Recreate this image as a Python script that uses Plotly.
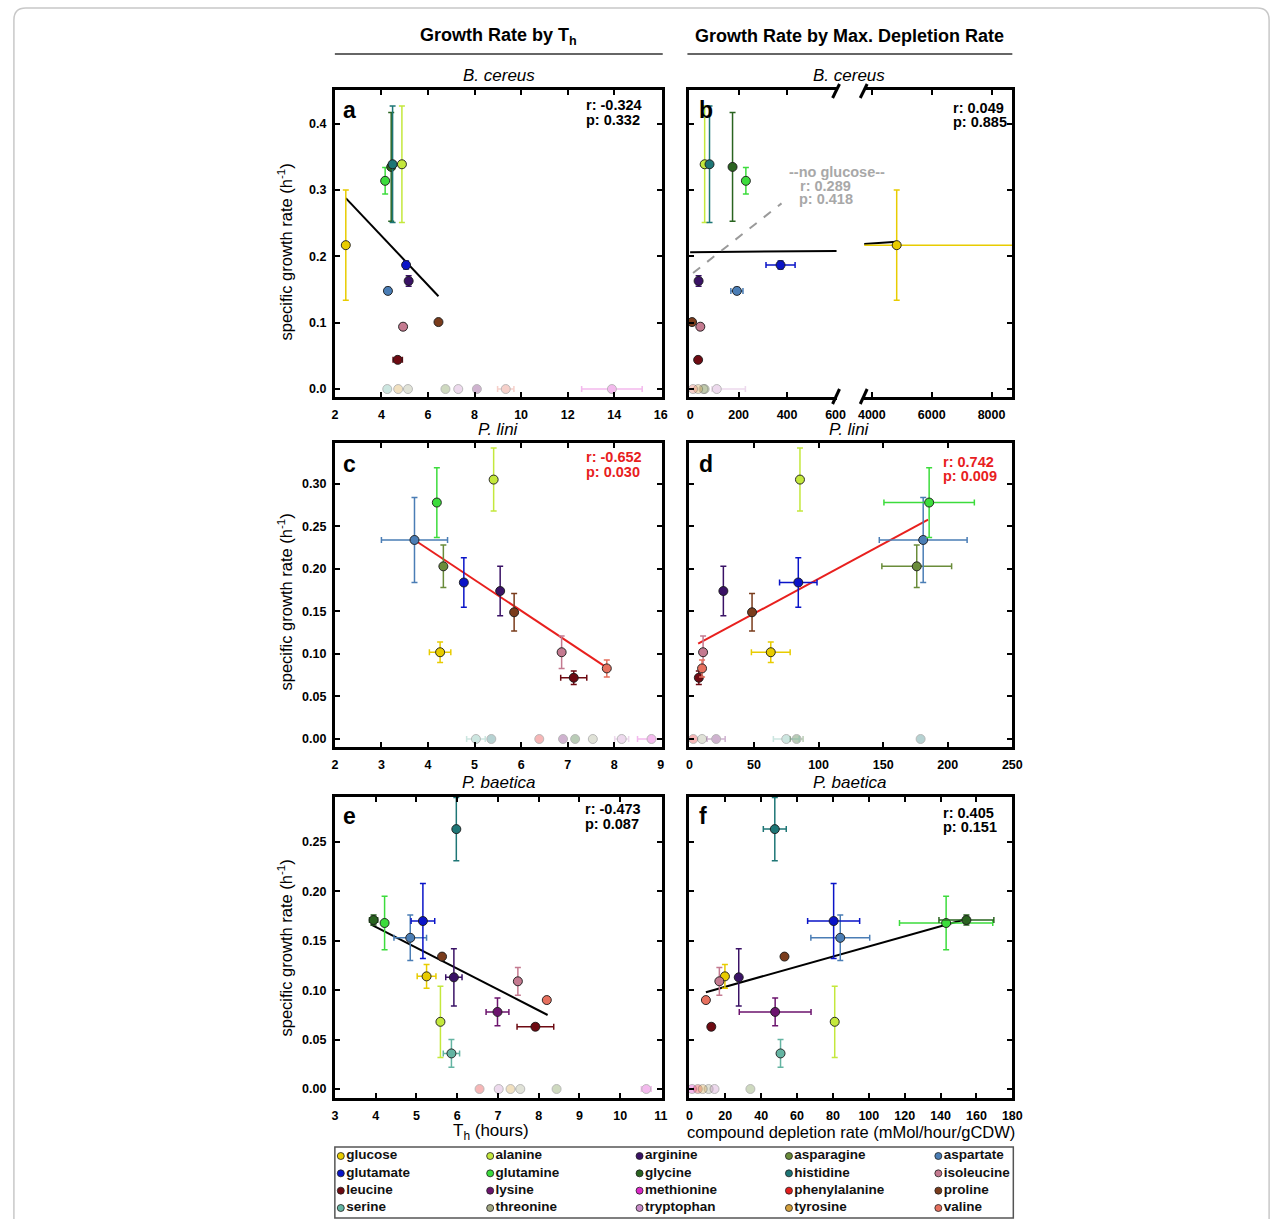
import plotly.graph_objects as go

FONT = "Liberation Sans"
W, H = 1287, 1219

# ---------------- data ----------------
compounds = ["glucose", "alanine", "arginine", "asparagine", "aspartate",
             "glutamate", "glutamine", "glycine", "histidine", "isoleucine",
             "leucine", "lysine", "methionine", "phenylalanine", "proline",
             "serine", "threonine", "tryptophan", "tyrosine", "valine"]
colors = ["#e8cc00", "#c4e83c", "#3a1266", "#6a8c3a", "#4a7db5",
          "#0a14c8", "#3cdc3c", "#2a6420", "#1e7676", "#c47a90",
          "#6e0a12", "#6c146e", "#dc28c8", "#e41e1e", "#7a3c1c",
          "#64b4a2", "#a2a884", "#c88cc8", "#d4a03c", "#e6705e"]

# B. cereus
bc_growth = [0.217, 0.339, 0.163, 0, 0.148, 0.187, 0.314, 0.335, 0.339, 0.094,
             0.044, 0, 0, None, 0.101, 0, 0, 0, 0, 0]
bc_growth_err = [0.083, 0.088, 0.008, 0, 0.005, 0.006, 0.02, 0.082, 0.088, 0.005,
                 0.004, 0, 0, 0, 0.003, 0, 0, 0, 0, 0]
bc_th = [2.47, 4.88, 5.17, 6.75, 4.28, 5.06, 4.16, 4.42, 4.48, 4.93,
         4.70, 8.10, 13.9, None, 6.45, 4.25, 5.14, 7.30, 4.72, 9.34]
bc_th_err = [0, 0, 0.08, 0, 0, 0, 0, 0, 0, 0,
             0.2, 0, 1.3, 0, 0, 0, 0, 0, 0, 0.35]
bc_dep = [4830, 60, 35, 60, 193, 373, 230, 175, 80, 42,
          33, None, None, None, 8, None, 55, 110, 33, 12]
bc_dep_err = [4300, 0, 0, 0, 25, 60, 0, 0, 0, 0,
              0, 0, 0, 0, 0, 0, 0, (20, 118), 0, 0]

# P. lini
pl_growth = [0.102, 0.305, 0.174, 0.203, 0.234, 0.184, 0.278, 0, 0, 0.102,
             0.072, 0, 0, 0, 0.149, 0, 0, 0, None, 0.083]
pl_growth_err = [0.012, 0.037, 0.029, 0.025, 0.05, 0.029, 0.041, 0, 0, 0.019,
                 0.008, 0, 0, 0, 0.022, 0, 0, 0, 0, 0.01]
pl_th = [4.26, 5.41, 5.55, 4.33, 3.71, 4.77, 4.19, 7.16, 5.36, 6.87,
         7.13, 6.90, 8.80, 6.39, 5.85, 5.03, 7.54, 8.16, None, 7.84]
pl_th_err = [0.23, 0, 0, 0, 0.71, 0, 0, 0, 0, 0,
             0.28, 0, 0.3, 0, 0, 0.2, 0, 0.15, 0, 0]
pl_dep = [63, 85.6, 26.3, 176, 181, 84.3, 185.6, 83, 179, 10.6,
          7.3, 20.7, None, 3, 48.5, 75, 9.8, None, None, 9.8]
pl_dep_err = [15, 0, 0, 27, 34, 14.5, 35, 5, 0, 0,
              0, 7, 0, 0, 0, 10, 0, 0, 0, 0]

# P. baetica
pb_growth = [0.114, 0.068, 0.113, 0, 0.153, 0.170, 0.168, 0.171, 0.263, 0.109,
             0.063, 0.078, 0, 0, 0.134, 0.036, 0, 0, 0, 0.090]
pb_growth_err = [0.012, 0.036, 0.029, 0, 0.023, 0.038, 0.027, 0.005, 0.032, 0.014,
                 0.003, 0.014, 0, 0, 0.003, 0.014, 0, 0, 0, 0.003]
pb_th = [5.25, 5.59, 5.92, 8.44, 4.85, 5.16, 4.22, 3.95, 5.98, 7.49,
         7.92, 6.99, 10.64, 6.55, 5.63, 5.86, 7.55, 7.02, 7.31, 8.20]
pb_th_err = [0.23, 0, 0.2, 0, 0.4, 0.29, 0, 0.1, 0, 0,
             0.45, 0.28, 0.12, 0, 0, 0.2, 0, 0, 0, 0]
pb_dep = [19.8, 81, 27.5, 34, 84.1, 80.4, 143.1, 154.4, 47.6, 16.7,
          12.2, 47.8, 1.5, 4.7, 53, 50.8, 10.7, 14, 7.4, 9.2]
pb_dep_err = [0, 0, 0, 0, 16.4, 14.5, 26, 15.3, 6.4, 0,
              0, 20, 0, 0, 0, 0, 0, 0, 0, 0]

# regression lines (end points)
a_fit_x, a_fit_y = [2.47, 6.45], [0.288, 0.140]
b_fit_x, b_fit_y = [0, 4830], [0.2063, 0.2223]
b_noglc_x, b_noglc_y = [12, 377], [0.175, 0.280]
c_fit_x, c_fit_y = [3.71, 7.84], [0.234, 0.0839]
d_fit_x, d_fit_y = [6.8, 184.8], [0.112, 0.258]
e_fit_x, e_fit_y = [3.88, 8.22], [0.1667, 0.0749]
f_fit_x, f_fit_y = [9.2, 154.4], [0.098, 0.172]

stats_r = ["r: -0.324", "r: 0.049", "r: -0.652", "r: 0.742", "r: -0.473", "r: 0.405"]
stats_p = ["p: 0.332", "p: 0.885", "p: 0.030", "p: 0.009", "p: 0.087", "p: 0.151"]
stats_sig = [False, False, True, True, False, False]
noglc_text = ["--no glucose--", "r: 0.289", "p: 0.418"]

x_ticks_a = [2, 4, 6, 8, 10, 12, 14, 16]
x_ticks_b1 = [0, 200, 400, 600]
x_ticks_b2 = [4000, 6000, 8000]
x_ticks_c = [2, 3, 4, 5, 6, 7, 8, 9]
x_ticks_d = [0, 50, 100, 150, 200, 250]
x_ticks_e = [3, 4, 5, 6, 7, 8, 9, 10, 11]
x_ticks_f = [0, 20, 40, 60, 80, 100, 120, 140, 160, 180]
y_ticks_a = [0.0, 0.1, 0.2, 0.3, 0.4]
y_ticks_c = [0.0, 0.05, 0.10, 0.15, 0.20, 0.25, 0.30]
y_ticks_e = [0.0, 0.05, 0.10, 0.15, 0.20, 0.25]

# ---------------- helpers ----------------
def PX(x):
    return x / W


def PY(y):
    return 1 - y / H


fig = go.Figure()


def err_dict(e, color, faded):
    if isinstance(e, tuple):
        d = dict(type="data", symmetric=False, arrayminus=[e[0]], array=[e[1]], visible=True)
    else:
        d = dict(type="data", array=[e], visible=bool(e and e > 0))
    d.update(color=color, thickness=1.5, width=3)
    return d


def add_points(xv, xe, yv, ye, xa, ya, keep=lambda v: True):
    order = sorted(range(len(compounds)), key=lambda i: (yv[i] is not None and yv[i] != 0))
    for i in order:
        x, y = xv[i], yv[i]
        if x is None or y is None or not keep(x):
            continue
        faded = (y == 0)
        fig.add_trace(go.Scatter(
            x=[x], y=[y], mode="markers", xaxis=xa, yaxis=ya,
            name=compounds[i], showlegend=False,
            opacity=0.32 if faded else 1.0,
            marker=dict(size=9, color=colors[i], line=dict(color="rgba(25,25,25,0.9)", width=1)),
            error_x=err_dict(xe[i], colors[i], faded),
            error_y=err_dict(ye[i], colors[i], faded),
            cliponaxis=False,
        ))


def add_line(xs, ys, xa, ya, color="black", dash="solid", width=2):
    fig.add_trace(go.Scatter(x=xs, y=ys, mode="lines", xaxis=xa, yaxis=ya,
                             showlegend=False, hoverinfo="skip",
                             line=dict(color=color, width=width, dash=dash)))


# lines first
add_line(a_fit_x, a_fit_y, "x", "y")
add_line(b_fit_x, b_fit_y, "x2", "y2")
add_line(b_fit_x, b_fit_y, "x3", "y3")
add_line(b_noglc_x, b_noglc_y, "x2", "y2", color="#9a9a9a", dash="dash")
add_line(c_fit_x, c_fit_y, "x4", "y4", color="#e8201e")
add_line(d_fit_x, d_fit_y, "x5", "y5", color="#e8201e")
add_line(e_fit_x, e_fit_y, "x6", "y6")
add_line(f_fit_x, f_fit_y, "x7", "y7")

# points
add_points(bc_th, bc_th_err, bc_growth, bc_growth_err, "x", "y")
add_points(bc_dep, bc_dep_err, bc_growth, bc_growth_err, "x2", "y2", keep=lambda v: v < 1000)
add_points(bc_dep, bc_dep_err, bc_growth, bc_growth_err, "x3", "y3", keep=lambda v: v >= 1000)
add_points(pl_th, pl_th_err, pl_growth, pl_growth_err, "x4", "y4")
add_points(pl_dep, pl_dep_err, pl_growth, pl_growth_err, "x5", "y5")
add_points(pb_th, pb_th_err, pb_growth, pb_growth_err, "x6", "y6")
add_points(pb_dep, pb_dep_err, pb_growth, pb_growth_err, "x7", "y7")

# legend as a scatter on its own hidden axis
fig.add_trace(go.Scatter(
    x=[i % 5 for i in range(len(compounds))],
    y=[i // 5 for i in range(len(compounds))],
    mode="markers+text", xaxis="x8", yaxis="y8", showlegend=False,
    text=compounds, textposition="middle right",
    textfont=dict(family=FONT, size=13.5, color="#111", weight="bold"),
    marker=dict(size=7, color=colors, line=dict(color="rgba(30,30,30,0.8)", width=1)),
    hoverinfo="skip", cliponaxis=False,
))

# ---------------- axes ----------------
tickfont = dict(family=FONT, size=12.5, color="black", weight="bold")


def xax(dom, rng, tickvals, anchor, labels=True, mirror="ticks", showline=True):
    return dict(domain=[PX(dom[0]), PX(dom[1])], range=rng, anchor=anchor,
                tickvals=tickvals, showticklabels=labels, tickfont=tickfont,
                showgrid=False, zeroline=False, showline=showline, linecolor="black",
                linewidth=3, mirror=mirror, ticks="inside", ticklen=5, tickwidth=1.5,
                tickcolor="black", ticklabelstandoff=4)


def yax(dom, rng, tickvals, anchor, labels=True, fmt=".2f", mirror="ticks", side="left"):
    return dict(domain=[PY(dom[1]), PY(dom[0])], range=rng, anchor=anchor,
                tickvals=tickvals, showticklabels=labels, tickformat=fmt, tickfont=tickfont,
                showgrid=False, zeroline=False, showline=True, linecolor="black",
                linewidth=3, mirror=mirror, ticks="inside", ticklen=5, tickwidth=1.5,
                tickcolor="black", side=side, ticklabelstandoff=3)


ROW1, ROW2, ROW3 = (90, 397), (443, 747), (797, 1098)
LEFT, RIGHT = (333, 664), (692, 1019)
YR1, YR2, YR3 = [-0.012, 0.451], [-0.0094, 0.348], [-0.0091, 0.2955]

layout_axes = dict(
    xaxis=xax(LEFT, [2, 16.04], x_ticks_a, "y"),
    yaxis=yax(ROW1, YR1, y_ticks_a, "x", fmt=".1f"),
    xaxis2=xax((692, 841), [-3, 604], x_ticks_b1, "y2"),
    yaxis2=yax(ROW1, YR1, y_ticks_a, "x2", labels=False, mirror=False),
    xaxis3=xax((869, 1019), [3744, 8694], x_ticks_b2, "y3"),
    yaxis3=yax(ROW1, YR1, y_ticks_a, "x3", labels=False, mirror=False, side="right"),
    xaxis4=xax(LEFT, [2, 9.02], x_ticks_c, "y4"),
    yaxis4=yax(ROW2, YR2, y_ticks_c, "x4"),
    xaxis5=xax(RIGHT, [0, 250], x_ticks_d, "y5"),
    yaxis5=yax(ROW2, YR2, y_ticks_c, "x5", labels=False),
    xaxis6=xax(LEFT, [3, 11.02], x_ticks_e, "y6"),
    yaxis6=yax(ROW3, YR3, y_ticks_e, "x6"),
    xaxis7=xax(RIGHT, [0, 180], x_ticks_f, "y7"),
    yaxis7=yax(ROW3, YR3, y_ticks_e, "x7", labels=False),
    xaxis8=dict(domain=[PX(333), PX(1020)], range=[-0.0397, 4.502], visible=False, anchor="y8"),
    yaxis8=dict(domain=[PY(1218), PY(1147)], range=[3.577, -0.519], visible=False, anchor="x8"),
)

# ---------------- annotations ----------------
def txt(x, y, s, size, bold=False, italic=False, color="black", xanchor="center", angle=0):
    return dict(x=PX(x), y=PY(y), xref="paper", yref="paper", text=s, showarrow=False,
                font=dict(family=FONT, size=size, color=color,
                          weight="bold" if bold else "normal",
                          style="italic" if italic else "normal"),
                xanchor=xanchor, yanchor="middle", textangle=angle)


ann = [
    txt(499, 36, "Growth Rate by T<sub>h</sub>", 18, bold=True),
    txt(854, 36, "Growth Rate by Max. Depletion Rate", 18, bold=True),
    txt(499, 76, "B. cereus", 17, italic=True),
    txt(854, 76, "B. cereus", 17, italic=True),
    txt(499, 430, "P. lini", 17, italic=True),
    txt(854, 430, "P. lini", 17, italic=True),
    txt(499, 782, "P. baetica", 17, italic=True),
    txt(854, 782, "P. baetica", 17, italic=True),
    txt(491, 1132, "T<sub>h</sub> (hours)", 17),
    txt(856, 1132, "compound depletion rate (mMol/hour/gCDW)", 16.5),
]
for yc in (252, 602, 948):
    ann.append(txt(283, yc, "specific growth rate (h<sup>-1</sup>)", 16.5, angle=-90))

letters = ["a", "b", "c", "d", "e", "f"]
letter_pos = [(348, 110), (709, 110), (348, 464), (709, 464), (348, 816), (706, 816)]
for L, (lx, ly) in zip(letters, letter_pos):
    ann.append(txt(lx, ly, L, 23, bold=True))

stat_pos = [(585, 105), (957, 108), (585, 457), (947, 462), (584, 809), (947, 813)]
for r, p, sig, (sx, sy) in zip(stats_r, stats_p, stats_sig, stat_pos):
    col = "#e8201e" if sig else "black"
    ann.append(txt(sx, sy, r, 14.5, bold=True, color=col, xanchor="left"))
    ann.append(txt(sx, sy + 14.5, p, 14.5, bold=True, color=col, xanchor="left"))

ann.append(txt(841, 172, noglc_text[0], 14.5, bold=True, color="#a8a8a8"))
ann.append(txt(830, 185.5, noglc_text[1], 14.5, bold=True, color="#a8a8a8"))
ann.append(txt(830, 199, noglc_text[2], 14.5, bold=True, color="#a8a8a8"))

# ---------------- shapes ----------------
def pline(x0, y0, x1, y1, color="black", width=3):
    return dict(type="line", xref="paper", yref="paper", x0=PX(x0), y0=PY(y0),
                x1=PX(x1), y1=PY(y1), line=dict(color=color, width=width))


shapes = [
    pline(333, 54, 665, 54, color="#333", width=1.5),
    pline(690, 54, 1019, 54, color="#333", width=1.5),
    # axis break slashes
    pline(837, 98, 844, 84), pline(865, 98, 872, 84),
    pline(837, 404, 844, 389), pline(865, 404, 872, 389),
    # legend box
    dict(type="rect", xref="paper", yref="paper", x0=PX(333), x1=PX(1020),
         y0=PY(1218), y1=PY(1147), line=dict(color="#555", width=1.5)),
]

# outer rounded border
x0, x1, y0, y1, r = 8, 1279, 8, 1240, 12
path = (f"M {PX(x0 + r)},{PY(y0)} L {PX(x1 - r)},{PY(y0)} "
        f"Q {PX(x1)},{PY(y0)} {PX(x1)},{PY(y0 + r)} L {PX(x1)},{PY(y1 - r)} "
        f"Q {PX(x1)},{PY(y1)} {PX(x1 - r)},{PY(y1)} L {PX(x0 + r)},{PY(y1)} "
        f"Q {PX(x0)},{PY(y1)} {PX(x0)},{PY(y1 - r)} L {PX(x0)},{PY(y0 + r)} "
        f"Q {PX(x0)},{PY(y0)} {PX(x0 + r)},{PY(y0)} Z")
shapes.append(dict(type="path", xref="paper", yref="paper", path=path,
                   line=dict(color="#c8c8c8", width=1.5)))

fig.update_layout(
    width=W, height=H, margin=dict(l=0, r=0, t=0, b=0),
    paper_bgcolor="white", plot_bgcolor="white",
    font=dict(family=FONT, color="black"),
    annotations=ann, shapes=shapes, showlegend=False,
    **layout_axes,
)

fig.write_html("out.html", config={"displayModeBar": False},
               post_script="document.body.style.margin='0';document.body.style.overflow='hidden';")
